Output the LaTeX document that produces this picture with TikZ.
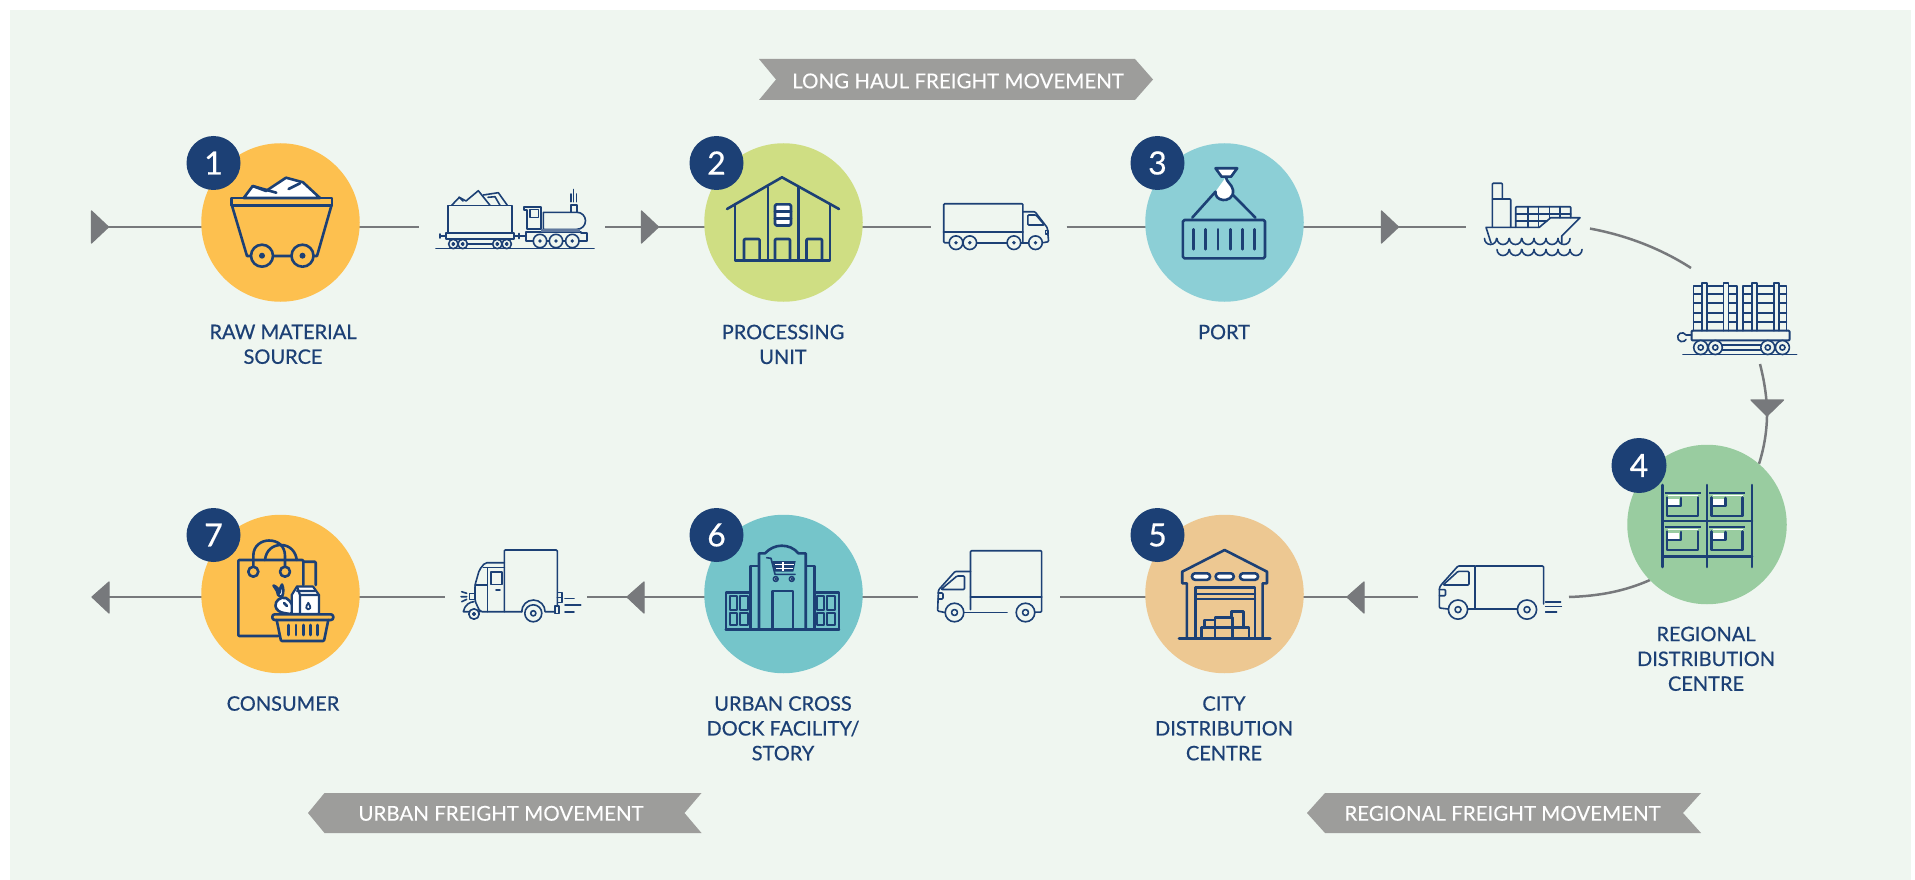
\documentclass[tikz,border=0pt]{standalone}
\usepackage{fontspec}
\usetikzlibrary{backgrounds,calc}
\setmainfont{Lato}
\newfontfamily\labfont{Lato}[FakeBold=0.5]
\newfontfamily\banfont{Lato}[FakeBold=0.15]
\definecolor{panel}{HTML}{EFF6F0}
\definecolor{navy}{HTML}{1C4075}
\definecolor{flowgrey}{HTML}{77797C}
\definecolor{bangrey}{HTML}{9D9D9B}
\definecolor{cyellow}{HTML}{FDC04F}
\definecolor{cgreen}{HTML}{CFDE83}
\definecolor{cport}{HTML}{8CCFD6}
\definecolor{crdc}{HTML}{99CCA0}
\definecolor{ccity}{HTML}{EDC892}
\definecolor{curban}{HTML}{75C5CA}
\tikzset{
  stopcircle/.style={circle,minimum size=158.5pt,inner sep=0pt,fill=#1},
  badge/.style={circle,minimum size=54pt,inner sep=0pt,fill=navy,text=white,font=\labfont\fontsize{32}{32}\selectfont},
  steplabel/.style={anchor=north,align=center,inner sep=0pt,text=navy,font=\labfont\fontsize{20}{24.8}\selectfont},
  bantext/.style={anchor=base,inner sep=0pt,text=white,font=\banfont\fontsize{20.5}{24}\selectfont},
  banfill/.style={fill=bangrey},
  flow/.style={draw=flowgrey,line width=2.5pt},
  tip/.style={fill=flowgrey,draw=flowgrey,line width=1.2pt,line join=round},
  big/.style={draw=navy,line width=2.6pt,line join=round,line cap=round},
  mid/.style={draw=navy,line width=2pt,line join=round,line cap=round},
  thin/.style={draw=navy,line width=1.6pt,line join=round,line cap=round},
}
\newcommand{\icwheel}[4]{% x y r hub
  \draw[thin,fill=panel] (#1,#2) circle[radius=#3pt];
  \draw[thin] (#1,#2) circle[radius=#4pt];}
\newcommand{\icdot}[3]{% x y r
  \draw[thin,fill=panel] (#1,#2) circle[radius=#3pt];
  \fill[navy] (#1,#2) circle[radius=1.9pt];}
\begin{document}
\begin{tikzpicture}[x=1pt,y=-1pt]
\useasboundingbox (0,0) rectangle (1915,880);
% stops
\node[stopcircle=cyellow] (c1) at (280.5,222.5) {};
\node[stopcircle=cgreen]  (c2) at (783.5,222.5) {};
\node[stopcircle=cport]   (c3) at (1224.5,222.5) {};
\node[stopcircle=crdc,minimum size=159.5pt] (c4) at (1707,524.5) {};
\node[stopcircle=ccity]   (c5) at (1224.5,594) {};
\node[stopcircle=curban]  (c6) at (783.5,594) {};
\node[stopcircle=cyellow] (c7) at (280.5,594) {};
% connector ends
\coordinate (s0) at (100,227);
\coordinate (t1a) at (419,227);
\coordinate (t1b) at (605,227);
\coordinate (t2a) at (931,227);
\coordinate (t2b) at (1066.5,227);
\coordinate (t3a) at (1466,227);
\coordinate (t3b) at (1590,228.6);
\coordinate (t4a) at (1691,268);
\coordinate (t4b) at (1760,364);
\coordinate (d4)  at (1767,408);
\coordinate (e4)  at (1759,464);
\coordinate (f4)  at (1650,580);
\coordinate (t5a) at (1569,597);
\coordinate (t5b) at (1418,597);
\coordinate (t6a) at (1060,597);
\coordinate (t6b) at (918,597);
\coordinate (t7a) at (587,597);
\coordinate (t7b) at (444.5,597);
\coordinate (s8)  at (100,597);
\begin{scope}[on background layer]
  \fill[panel] (10,10) rectangle (1911,880);
  \draw[flow] (s0) -- (c1.center |- s0);
  \draw[flow] (c1.center |- t1a) -- (t1a);
  \draw[flow] (t1b) -- (c2.center |- t1b);
  \draw[flow] (c2.center |- t2a) -- (t2a);
  \draw[flow] (t2b) -- (c3.center |- t2b);
  \draw[flow] (c3.center |- t3a) -- (t3a);
  \draw[flow] (t3b) .. controls (1625,235) and (1660,248) .. (t4a);
  \draw[flow] (t4b) .. controls (1764,380) and (1766,392) .. (d4) .. controls (1767.5,430) and (1764,448) .. (e4);
  \draw[flow] (f4) .. controls (1625,591) and (1600,596) .. (t5a);
  \draw[flow] (t5b) -- (c5.center |- t5b);
  \draw[flow] (c5.center |- t6a) -- (t6a);
  \draw[flow] (t6b) -- (c6.center |- t6b);
  \draw[flow] (c6.center |- t7a) -- (t7a);
  \draw[flow] (t7b) -- (c7.center |- t7b);
  \draw[flow] (c7.center |- s8) -- (s8);
\end{scope}
% arrow heads
\foreach \x in {91.5,641.5,1381.5} \fill[tip] (\x,211) -- (\x,243) -- (\x+17,227) -- cycle;
\foreach \x in {109,644,1364} \fill[tip] (\x,582) -- (\x,613) -- (\x-17,597) -- cycle;
\fill[tip] (1751,400) -- (1783.5,400) -- (1767,416) -- cycle;
% badges
\node[badge] (b1) at (213.5,163) {1};
\node[badge] (b2) at (716.5,163) {2};
\node[badge] (b3) at (1157.5,163) {3};
\node[badge,minimum size=55pt] (b4) at (1639,465.5) {4};
\node[badge] (b5) at (1157.5,535) {5};
\node[badge] (b6) at (716.5,535) {6};
\node[badge] (b7) at (213.5,535) {7};
% labels
\node[steplabel] (l1) at (283,324.5) {RAW MATERIAL\\SOURCE};
\node[steplabel] (l2) at (783,324.5) {PROCESSING\\UNIT};
\node[steplabel] (l3) at (1224,324.5) {PORT};
\node[steplabel] (l4) at (1706,626.5) {REGIONAL\\DISTRIBUTION\\CENTRE};
\node[steplabel] (l5) at (1224,696) {CITY\\DISTRIBUTION\\CENTRE};
\node[steplabel] (l6) at (783,696) {URBAN CROSS\\DOCK FACILITY/\\STORY};
\node[steplabel] (l7) at (283,696) {CONSUMER};
% banners
\fill[banfill] (759,59) -- (1135,59) -- (1153,79.5) -- (1135,100) -- (759,100) -- (776,79.5) -- cycle;
\node[bantext] (h1) at (958,88.3) {LONG HAUL FREIGHT MOVEMENT};
\fill[banfill] (308,813) -- (324.5,793) -- (701.5,793) -- (684.5,813) -- (701.5,833) -- (324.5,833) -- cycle;
\node[bantext] (h2) at (501,820.7) {URBAN FREIGHT MOVEMENT};
\fill[banfill] (1307,813) -- (1325,793) -- (1701,793) -- (1683,813) -- (1701,833) -- (1325,833) -- cycle;
\node[bantext] (h3) at (1502.5,820.7) {REGIONAL FREIGHT MOVEMENT};

% ---- icon 1: mine cart
\draw[big,fill=white] (243.7,198) -- (252.7,186) -- (266,191) -- (286,177.7) -- (303,182.3) -- (320,198) -- cycle;
\draw[big] (252.7,186) -- (276.3,192.7) (288.6,189) -- (300,183.3);
\draw[big] (231.4,198) rectangle (332,205.7);
\draw[big] (232,205.7) -- (247,256) -- (317,256) -- (331.4,205.7);
\draw[big,fill=cyellow] (262,255.7) circle[radius=11pt];
\draw[big,fill=cyellow] (302.5,255.7) circle[radius=11pt];
\fill[navy] (262,255.7) circle[radius=3pt] (302.5,255.7) circle[radius=3pt];

% ---- train
\draw[thin] (451.7,205.3) -- (459.3,197.3) -- (466,201) -- (478.3,190.7) -- (490,205.3);
\draw[thin] (483.3,195) -- (498.3,192.7) -- (507.3,205.3) (488,197.3) -- (495,196.7) -- (500,205.3) (459.3,197.3) -- (463,201);
\draw[thin] (447.7,205.3) rectangle (511.7,232.7);
\draw[thin,line width=2.2pt] (445.7,232.7) rectangle (514,239.3);
\draw[thin] (440,236) -- (445.7,236) (514,236) -- (525,236) (440,234) -- (440,238) (519,233.5) -- (519,238.5);
\draw[mid] (465,244) -- (495,244);
\foreach \x in {453.3,462.7,497.3,506.7} \icwheel{\x}{244}{4.7}{1.2};
\draw[thin] (436,248.3) -- (594,248.3);
\draw[thin,line width=2pt] (524,207.3) -- (540.7,207.3) -- (540.7,229.3) -- (526.7,229.3) -- (526.7,210) -- (524,210) -- cycle;
\draw[thin] (530,209.5) rectangle (538.5,217.5);
\draw[thin] (543.3,212.3) -- (577,212.3) arc[start angle=90,end angle=-90,radius=8.5pt] -- (543.3,229.3) -- cycle;
\draw[thin] (571,205) rectangle (576.7,212.3);
\draw[thin] (573.5,189.5) -- (573.5,201.7) (570.7,194) -- (570.7,201.7) (576.3,194) -- (576.3,201.7);
\draw[thin,fill=panel] (525.7,231.7) -- (581,231.7) -- (581,233) -- (586.7,233) -- (586.7,241) -- (525.7,241) -- cycle;
\fill[navy!70] (541,229) rectangle (580,231.7);
\foreach \x in {540,556,572.3} \icdot{\x}{241}{6.7};

% ---- icon 2: processing unit
\draw[big] (727,209) -- (782,177.3) -- (839,209);
\draw[big] (735,204) -- (735,260.7) -- (830,260.7) -- (830,204);
\draw[big] (767.8,187) -- (767.8,260.7) (798.4,187) -- (798.4,260.7);
\draw[big,rounded corners=1.5pt,fill=white] (775,204.3) rectangle (791,225.5);
\draw[big] (775,211.2) -- (791,211.2) (775,218.3) -- (791,218.3);
\draw[big,rounded corners=1pt] (744,260.7) -- (744,239) -- (759.6,239) -- (759.6,260.7);
\draw[big,rounded corners=1pt] (775,260.7) -- (775,239) -- (790,239) -- (790,260.7);
\draw[big,rounded corners=1pt] (806.5,260.7) -- (806.5,239) -- (822,239) -- (822,260.7);

% ---- truck 1
\draw[thin,rounded corners=1pt] (1022.9,242.7) -- (1022.9,203.7) -- (943.7,203.7) -- (943.7,242.7) -- (950,242.7);
\draw[mid] (943.7,231.7) -- (1022.9,231.7);
\draw[thin,rounded corners=1pt] (1022.9,211.7) -- (1035,211.7) -- (1047.3,227.7) -- (1048.6,241.7) -- (1043,242.7);
\draw[thin,rounded corners=1pt] (1027.8,215) -- (1036,215) -- (1044.5,225) -- (1027.8,225) -- cycle;
\draw[thin] (1045.5,230.5) -- (1048,230.5) -- (1048,234) -- (1045.5,234) -- cycle;
\draw[mid] (975,242.7) -- (1008,242.7) (1020,242.7) -- (1028,242.7);
\foreach \x in {956,969.8,1013.9,1035.5} \icdot{\x}{242.7}{6.8};

% ---- icon 3: port container
\draw[big,fill=white] (1215.5,168.3) -- (1237.2,168.3) -- (1231,176.7) -- (1221.6,176.7) -- cycle;
\draw[big,fill=white] (1226,177) .. controls (1226,182) and (1232,184) .. (1233,190) .. controls (1234,198) and (1227,200.5) .. (1223,200) .. controls (1218,199.5) and (1215,196) .. (1215.5,191.7);
\draw[big] (1215.5,191.7) -- (1192.2,217.7) (1233,195) -- (1255.5,217.7);
\draw[big,rounded corners=1.5pt] (1182.9,220) rectangle (1265,258.3);
\foreach \x in {1193.5,1205.7,1218,1230.2,1242.4,1254.7} \draw[big] (\x,229.3) -- (\x,249.3);

% ---- ship
\draw[thin,rounded corners=0.8pt] (1492.3,199) -- (1492.3,183.3) -- (1502.3,183.3) -- (1502.3,199);
\draw[thin,rounded corners=0.8pt] (1492.3,227.3) -- (1492.3,199) -- (1510.7,199) -- (1510.7,227.3);
\draw[thin,rounded corners=0.8pt] (1515.7,227.3) -- (1515.7,206.7) -- (1570.7,206.7) -- (1570.7,217.7);
\draw[thin] (1515.7,214) -- (1570.7,214) (1515.7,220.7) -- (1547,220.7);
\draw[thin] (1527.7,206.7) -- (1527.7,227.3) (1538.3,206.7) -- (1538.3,227.3) (1549.3,206.7) -- (1549.3,217.7) (1560,206.7) -- (1560,217.7);
\draw[thin] (1491,243) -- (1486,227.3) -- (1539.3,227.3) -- (1550.7,217.7) -- (1580,217.7) -- (1561.7,236) -- (1561.7,243);
\foreach \x in {1484.5,1497,1509.5,1522,1534,1546,1558} \draw[thin] (\x,238.5) arc[start angle=180,end angle=360,radius=6pt];
\foreach \x in {1497,1509.5,1522,1534,1546,1558,1570} \draw[thin] (\x,249.5) arc[start angle=180,end angle=360,radius=6pt];

% ---- rail car
\foreach \x/\w in {1693.6/43.4,1743/43.4} {
  \draw[thin] (\x,330.7) -- (\x,285.7) -- (\x+\w,285.7) -- (\x+\w,330.7);
  \foreach \y in {294,303,313,322} \draw[thin] (\x,\y) -- (\x+\w,\y);
}
\foreach \x in {1702,1723.6,1752,1773.8} \draw[thin,fill=panel] (\x,330.7) -- (\x,283) -- (\x+5,283) -- (\x+5,330.7);
\draw[mid,rounded corners=0.8pt] (1691.6,330.7) rectangle (1789.5,340.4);
\draw[thin] (1691.6,335) -- (1686,335) arc[start angle=30,end angle=330,radius=4.5pt];
\draw[thin] (1722,345) -- (1761,345) (1722,350) -- (1761,350);
\foreach \x in {1700.7,1715.3,1767.8,1782.4} \icwheel{\x}{347.5}{7}{2.6};
\draw[thin] (1683,354.6) -- (1796.6,354.6);

% ---- icon 4: racks
\draw[big] (1662.4,485) -- (1662.4,567) (1707,485) -- (1707,567) (1752,485) -- (1752,567);
\draw[big] (1662.4,521) -- (1752,521) (1662.4,556.4) -- (1752,556.4);
\foreach \dx/\dy in {0/0,44.5/0,0/34,44.5/34} {
 \begin{scope}[shift={(\dx,\dy)}]
  \fill[white] (1667.3,499) rectangle (1679.3,504.6);
  \draw[big] (1681,498) -- (1681,506) -- (1667,506);
  \draw[big,line cap=butt] (1664.5,492.8) -- (1700.5,492.8);
  \draw[white,line width=1pt] (1668,495.3) -- (1698,495.3);
  \draw[big] (1666.8,497.5) -- (1666.8,516) -- (1698,516) -- (1698,497.5);
 \end{scope}
}

% ---- truck regional
\draw[thin,rounded corners=1pt] (1475,609) -- (1475,566) -- (1543.6,566) -- (1543.6,604);
\draw[thin,rounded corners=1pt] (1475,566) -- (1458,566) -- (1441,585) -- (1439.4,588) -- (1439.4,608) -- (1448,609);
\draw[thin,rounded corners=1pt] (1458,571.4) -- (1469,571.4) -- (1469,585) -- (1443,585) -- cycle;
\draw[thin,rounded corners=1pt] (1439.4,589.6) -- (1445.5,589.6) -- (1445.5,595.7) -- (1439.4,595.7);
\draw[thin] (1467,609) -- (1517,609);
\icwheel{1458}{609.6}{9.6}{3};
\icwheel{1527}{609.6}{9.6}{3};
\draw[thin] (1545.6,601.8) -- (1560.6,601.8) (1545.6,606.6) -- (1561.4,606.6) (1545.6,611.8) -- (1556.6,611.8);

% ---- icon 5: warehouse
\draw[big] (1186.8,638.3) -- (1186.8,583.3) -- (1182.2,583.3) -- (1182.2,571.7) -- (1224.6,550) -- (1267,571.7) -- (1267,583.3) -- (1262.6,583.3) -- (1262.6,638.3);
\draw[big,line width=3pt] (1179,638.3) -- (1270,638.3);
\foreach \x in {1192,1215.7,1240} \draw[big,fill=white,rounded corners=3pt] (\x,573.3) rectangle (\x+18,579.8);
\draw[big] (1195.6,638) -- (1195.6,587.3) -- (1255,587.3) -- (1255,638);
\draw[big] (1195.6,594) -- (1255,594) (1195.6,599) -- (1255,599);
\draw[big] (1201.4,638) -- (1201.4,627.7) -- (1249,627.7) -- (1249,638) (1215,627.7) -- (1215,638) (1232.3,627.7) -- (1232.3,638);
\draw[big] (1204.5,627.7) -- (1204.5,620) -- (1215,620) (1215,627.7) -- (1215,617.3) -- (1232.3,617.3) -- (1232.3,627.7);
\draw[big] (1231.3,617.3) -- (1231.3,611.7) -- (1243.4,611.7) -- (1243.4,627.7);

% ---- truck 2
\draw[thin,rounded corners=1pt] (970.5,609.5) -- (970.5,550.7) -- (1041.6,550.7) -- (1041.6,612) -- (1027,612.5);
\draw[mid] (970.5,597) -- (1041.6,597);
\draw[thin,rounded corners=1pt] (970.5,571.5) -- (955,571.5) -- (938.5,590) -- (937.6,611) -- (945,612.5);
\draw[thin,rounded corners=1pt] (957,576) -- (964.5,576) -- (964.5,589.5) -- (941,589.5) -- cycle;
\draw[thin,rounded corners=1pt] (938,593) -- (943,593) -- (943,599) -- (938,599);
\draw[thin] (963,612.5) -- (1007,612.5);
\icwheel{954.5}{612.5}{9.3}{3};
\icwheel{1025.5}{612.5}{9.3}{3};

% ---- icon 6: shop
\draw[big,line width=2.4pt] (725.7,592.3) rectangle (839,629.3);
\foreach \x in {729.5,740,816.7,827.3} \foreach \y/\h in {596/13.5,612.5/12.5} \draw[big,line width=2pt] (\x,\y) rectangle (\x+7.5,\y+\h);
\draw[big,fill=curban] (750.7,629.3) -- (750.7,566) -- (814.3,566) -- (814.3,629.3);
\draw[big,fill=curban] (759,629.3) -- (759,553.3) -- (765,553.3) .. controls (770,548) and (776,545.7) .. (781.7,545.7) .. controls (788,545.7) and (794,548) .. (798.3,553.3) -- (805.7,553.3) -- (805.7,629.3);
\draw[big] (772.3,629.3) -- (772.3,591) -- (793,591) -- (793,629.3);
\draw[big,line width=2.4pt] (725.7,629.3) -- (839,629.3);
\draw[thin] (766.7,557.7) -- (771,558.3) -- (775,574.3) -- (795,574.3);
\fill[navy] (772.3,561) -- (795.7,561) -- (793.3,571.7) -- (775,571.7) -- cycle;
\draw[white,line width=1.4pt] (775,564.5) -- (793.5,564.5) (776,568.2) -- (792.5,568.2) (783,562) -- (783,571);
\icwheel{775.7}{579}{2.4}{0.5};
\icwheel{791.7}{579}{2.4}{0.5};

% ---- tuk-tuk
\draw[thin,rounded corners=1pt] (504.3,611.7) -- (504.3,550) -- (557.3,550) -- (557.3,605.7);
\draw[thin,rounded corners=2pt] (504.3,562.7) -- (485,562.7) -- (479.3,570) -- (475,585) -- (475,601) -- (480,611.7) -- (522,611.7);
\draw[thin] (483.3,567.3) -- (504.3,567.3) (487.3,568) -- (487.3,611.7) (475,585) -- (487.3,585);
\draw[thin] (490.7,571.7) rectangle (501.7,584.3) (496,590) -- (500,590);
\draw[thin] (469.3,593.3) rectangle (475,599.3);
\draw[thin] (461.7,591.7) -- (466.7,593.3) (461,596.7) -- (466.7,596.7) (461.7,601.7) -- (466.7,599.3);
\draw[thin] (463.3,611.7) .. controls (464.5,605) and (470,601.7) .. (474,601.7) (463.3,611.7) -- (480,611.7);
\icwheel{474}{614}{5.2}{1.3};
\draw[thin] (521.7,611.7) arc[start angle=180,end angle=0,radius=11.7pt] -- (555,611.7);
\icwheel{533.3}{613.3}{8.5}{2.6};
\draw[thin] (555,605.7) rectangle (558.7,613.3);
\draw[thin] (557.3,592.3) rectangle (561.7,602.3) (557.3,597.3) -- (561.7,597.3);
\draw[thin] (565,598.3) -- (574,598.3) (565,605) -- (580.7,605) (565,611.7) -- (574,611.7);

% ---- icon 7: consumer
\draw[big,rounded corners=1pt] (278.3,636) -- (238.3,636) -- (238.3,560) -- (303.3,560) -- (303.3,585);
\draw[big,rounded corners=1pt] (303.3,561.7) -- (315.7,561.7) -- (315.7,585);
\draw[big] (253.3,566.5) -- (253.3,556) .. controls (253.3,545) and (262,540.5) .. (269,540.5) .. controls (278,540.5) and (285,546) .. (285,556) -- (285,566.5);
\draw[big] (265,560) .. controls (266,550) and (273,545) .. (281,545) .. controls (290,545) and (296,552) .. (296.7,560);
\draw[big,fill=cyellow] (253.3,571.7) circle[radius=5pt];
\draw[big,fill=cyellow] (285,571.7) circle[radius=5pt];
\draw[big,fill=white] (277,591) -- (273.5,585.5) .. controls (277,587) and (279,589) .. (279.5,593) .. controls (280,588) and (281,586) .. (282,584.5) .. controls (283.5,588) and (284,592) .. (282,597) .. controls (278,596) and (277,594) .. (277,591) -- cycle;
\draw[big,fill=white] (290,614) -- (293,612) .. controls (294,606) and (291,601) .. (286,598) .. controls (280,596.5) and (275,601) .. (275.5,606) .. controls (276,610) and (280,612.5) .. (284,613) -- cycle;
\draw[big] (284,603) -- (287,606);
\draw[big,fill=white,line width=2.2pt] (291.7,614) -- (291.7,595) -- (297,586.5) -- (313,586.5) -- (319,595) -- (319,614) -- cycle;
\draw[big,line width=2.2pt] (300,614) -- (300,595) -- (319,595) (300,595) -- (297,586.5) (297,591) -- (315,591);
\draw[navy,line width=1.8pt,fill=white,line join=round] (308.3,602.8) .. controls (306.5,605.5) and (306,607) .. (306.3,608) .. controls (306.8,610) and (309.8,610) .. (310.3,608) .. controls (310.6,607) and (310,605.5) .. (308.3,602.8) -- cycle;
\draw[big,fill=cyellow,rounded corners=2.5pt] (272.3,614.3) rectangle (333.3,620);
\draw[big,rounded corners=1pt] (276.7,620) -- (281,641) -- (324,641) -- (328.3,620);
\foreach \x in {288.3,296,303.3,310.7,317.7} \draw[big] (\x,625) -- (\x,635);
\end{tikzpicture}
\end{document}
